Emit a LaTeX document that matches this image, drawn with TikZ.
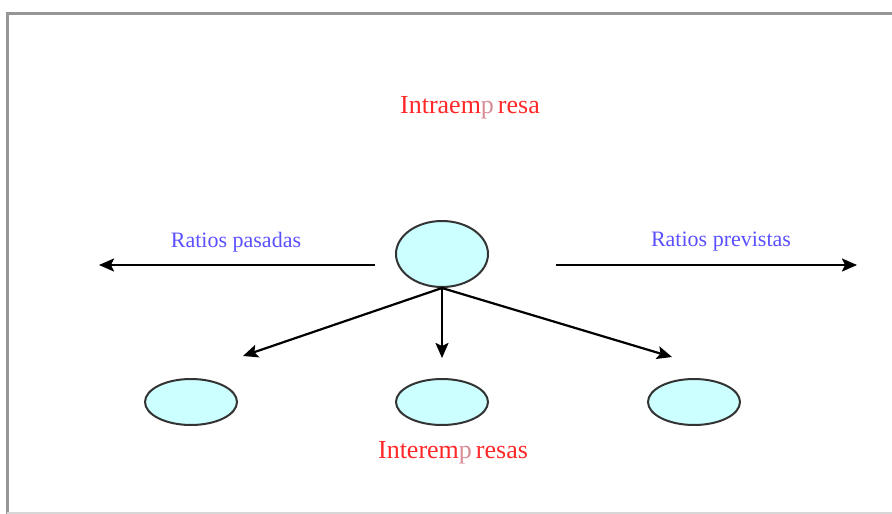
\documentclass[tikz,border=0pt]{standalone}
\usepackage{fontspec}
\setmainfont{Liberation Serif}
\usetikzlibrary{arrows.meta,shapes.geometric}
\definecolor{fillc}{RGB}{204,255,255}
\definecolor{redt}{RGB}{255,40,40}
\definecolor{bluet}{RGB}{90,80,255}
\definecolor{pcol}{RGB}{215,140,150}
\definecolor{framec}{RGB}{150,150,150}
\definecolor{framel}{RGB}{215,215,215}
\begin{document}
\begin{tikzpicture}[x=1pt,y=-1pt,
  ell/.style={ellipse,draw=black!80,line width=2pt,fill=fillc,inner sep=0pt},
  arr/.style={-{Stealth[length=15pt,width=13pt,inset=3pt]},line width=2.2pt,black},
  redlab/.style={text=redt,font=\fontsize{26}{30}\selectfont,inner sep=0pt},
  bluelab/.style={text=bluet,font=\fontsize{22}{26}\selectfont,inner sep=0pt}]
\useasboundingbox (0,0) rectangle (892,514);
\draw[framec,line width=3pt] (7,514) -- (7,13) -- (892,13);
\draw[framel,line width=2pt] (7,513) -- (892,513);
\node[ell,minimum width=92pt,minimum height=66pt] (c) at (442,254) {};
\node[ell,minimum width=92pt,minimum height=46pt] (l) at (191,402) {};
\node[ell,minimum width=92pt,minimum height=46pt] (m) at (442,402) {};
\node[ell,minimum width=92pt,minimum height=46pt] (r) at (694,402) {};
\node[redlab] (t1) at (470,108) {Intraem{\color{pcol}p}\hspace{4pt}resa};
\node[redlab] (t2) at (453,453) {Interem{\color{pcol}p}\hspace{4pt}resas};
\node[bluelab] (b1) at (236,242) {Ratios pasadas};
\node[bluelab] (b2) at (721,242) {Ratios previstas};
\coordinate (la) at (375,265);
\coordinate (lb) at (99,265);
\coordinate (ra) at (556,265);
\coordinate (rb) at (857,265);
\coordinate (dl) at (243,356);
\coordinate (dm) at (442,358);
\coordinate (dr) at (672,357);
\draw[arr] (la) -- (lb);
\draw[arr] (ra) -- (rb);
\draw[arr] (c.south) -- (dl);
\draw[arr] (c.south) -- (dm);
\draw[arr] (c.south) -- (dr);
\end{tikzpicture}
\end{document}
